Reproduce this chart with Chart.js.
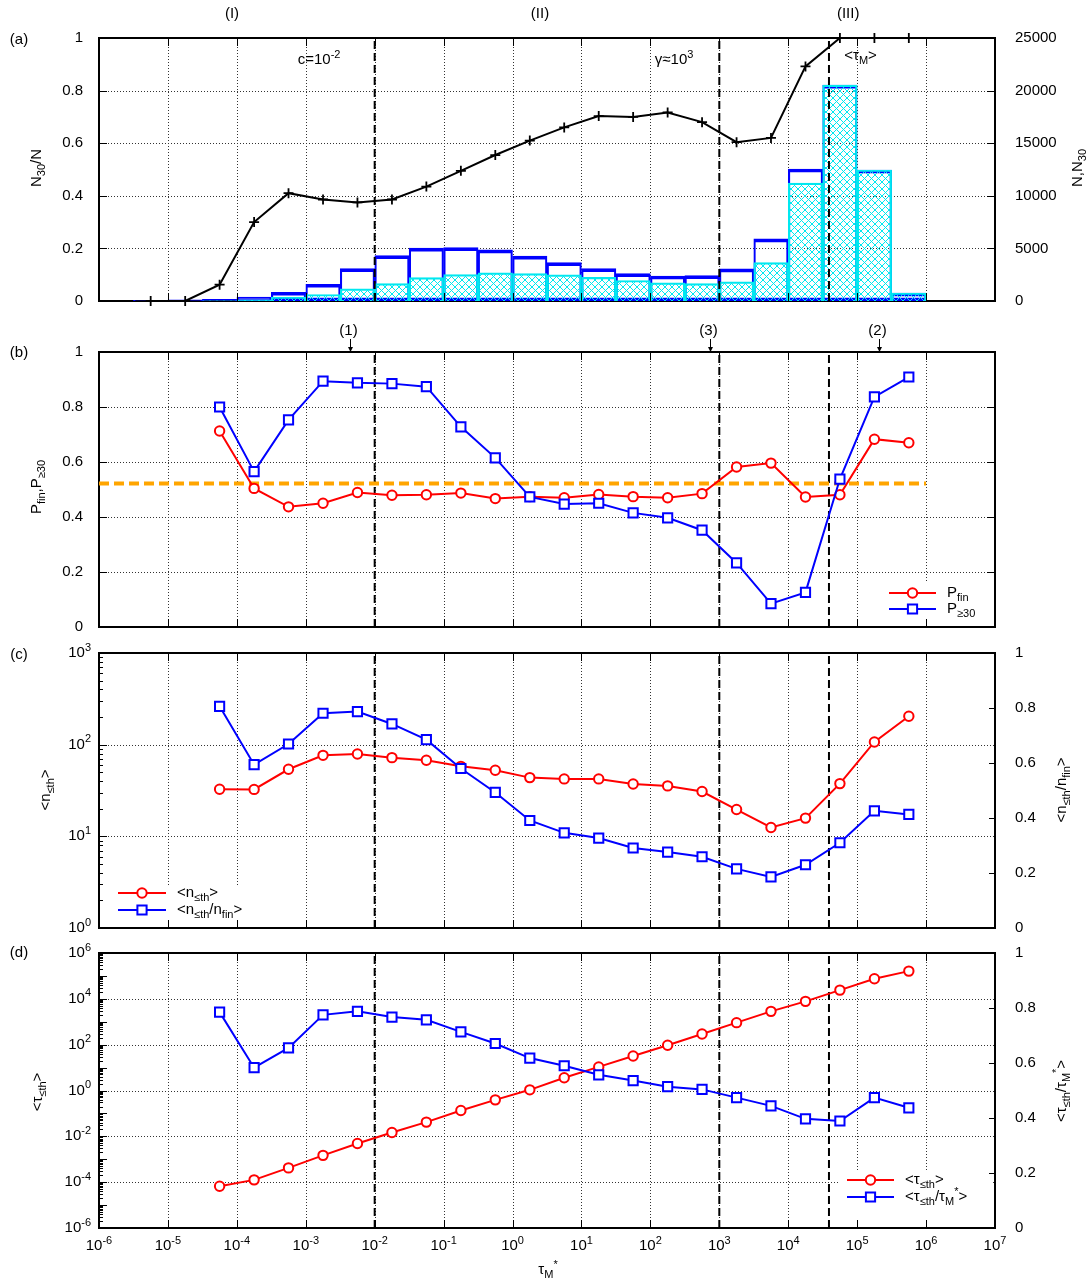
<!DOCTYPE html>
<html>
<head>
<meta charset="utf-8">
<title>chart</title>
<script src="https://cdn.jsdelivr.net/npm/chart.js@4.4.1/dist/chart.umd.min.js"></script>
<style>
html,body{margin:0;padding:0;background:#ffffff;}
#wrap{position:relative;width:1091px;height:1283px;overflow:hidden;background:#fff;}
#wrap canvas{position:absolute;left:0;}
</style>
</head>
<body>
<div id="wrap">
<canvas id="cA" width="1091" height="330" style="top:0px"></canvas>
<canvas id="cB" width="1091" height="330" style="top:320px"></canvas>
<canvas id="cC" width="1091" height="330" style="top:625px"></canvas>
<canvas id="cD" width="1091" height="358" style="top:925px"></canvas>
</div>
<script>
// ---------------- data ----------------
const tauBins = [5.62e-6, 1.78e-5, 5.62e-5, 1.78e-4, 5.62e-4, 1.78e-3, 5.62e-3, 1.78e-2, 5.62e-2, 0.178, 0.562, 1.78, 5.62, 17.8, 56.2, 178, 562, 1780, 5620, 17800, 56200, 178000, 562000];
const countN = [60, 100, 150, 380, 830, 1590, 3080, 4320, 5020, 5080, 4860, 4260, 3650, 3080, 2600, 2380, 2410, 3050, 5910, 12550, 20520, 12450, 760];
const countN30 = [0, 0, 10, 115, 380, 620, 1150, 1650, 2220, 2510, 2680, 2600, 2480, 2250, 1950, 1730, 1650, 1820, 3650, 11210, 20520, 12450, 760];
const fracN30 = [0, 0, 0.062, 0.30, 0.41, 0.386, 0.375, 0.386, 0.435, 0.495, 0.555, 0.61, 0.66, 0.703, 0.70, 0.717, 0.68, 0.604, 0.62, 0.892, 1, 1, 1];

const tauPoints = [5.62e-5, 1.78e-4, 5.62e-4, 1.78e-3, 5.62e-3, 1.78e-2, 5.62e-2, 0.178, 0.562, 1.78, 5.62, 17.8, 56.2, 178, 562, 1780, 5620, 17800, 56200, 178000, 562000];
const pFin  = [0.713, 0.504, 0.437, 0.450, 0.489, 0.479, 0.481, 0.487, 0.467, 0.474, 0.470, 0.482, 0.474, 0.470, 0.485, 0.582, 0.596, 0.473, 0.481, 0.683, 0.670];
const pGe30 = [0.800, 0.565, 0.753, 0.894, 0.888, 0.885, 0.874, 0.728, 0.615, 0.473, 0.447, 0.450, 0.415, 0.397, 0.352, 0.233, 0.085, 0.126, 0.538, 0.837, 0.909];
const pThreshold = 0.522;

const nTh    = [32.6, 32.5, 53.9, 76.5, 79.1, 72.2, 67.5, 58.0, 52.6, 43.7, 42.3, 42.3, 37.3, 35.5, 30.8, 19.6, 12.5, 15.8, 37.6, 107, 204];
const nRatio = [0.806, 0.594, 0.669, 0.781, 0.787, 0.742, 0.685, 0.580, 0.493, 0.391, 0.346, 0.327, 0.291, 0.276, 0.259, 0.215, 0.186, 0.230, 0.310, 0.426, 0.413];

const tauTh    = [6.6e-5, 1.26e-4, 4.2e-4, 1.48e-3, 4.9e-3, 0.0148, 0.0417, 0.135, 0.39, 1.07, 3.6, 10.7, 32, 94, 293, 912, 2840, 7760, 24000, 75500, 162000];
const tauRatio = [0.785, 0.583, 0.655, 0.775, 0.788, 0.767, 0.757, 0.713, 0.671, 0.618, 0.590, 0.557, 0.536, 0.514, 0.504, 0.474, 0.444, 0.397, 0.389, 0.474, 0.437];

const markerTaus = [1e-2, 1e3, 3.9e4];

const xTickValues = [1e-6, 1e-5, 1e-4, 1e-3, 1e-2, 1e-1, 1, 10, 100, 1e3, 1e4, 1e5, 1e6, 1e7];
const xTickExps = ['-6', '-5', '-4', '-3', '-2', '-1', '0', '1', '2', '3', '4', '5', '6', '7'];
const yTickValuesC = [1, 10, 100, 1000];
const yTickExpsC = ['0', '1', '2', '3'];
const yTickValuesD = [1e-6, 1e-4, 1e-2, 1, 1e2, 1e4, 1e6];
const yTickExpsD = ['-6', '-4', '-2', '0', '2', '4', '6'];
const regionTaus = [8.5e-5, 2.5, 7.4e4];
const regionLabels = ['(I)', '(II)', '(III)'];
const arrowTaus = [4.35e-3, 733, 2.1e5];
const arrowLabels = ['(1)', '(3)', '(2)'];

// ---------------- helpers ----------------
const FONT_FAMILY = '"Liberation Sans", Arial, Helvetica, sans-serif';
const FS = 15;
Chart.defaults.font.family = FONT_FAMILY;
Chart.defaults.font.size = FS;
Chart.defaults.color = '#000';

function setFont(ctx, sz) { ctx.font = sz + 'px ' + FONT_FAMILY; }
function richWidth(ctx, parts, size) {
  const small = Math.round(size * 0.73);
  let w = 0;
  for (const [t, m] of parts) { setFont(ctx, m ? small : size); w += ctx.measureText(t).width; }
  return w;
}
function drawRich(ctx, parts, x, y, align, size) {
  size = size || FS;
  const small = Math.round(size * 0.73);
  const w = richWidth(ctx, parts, size);
  let cx = align === 'center' ? x - w / 2 : (align === 'right' ? x - w : x);
  ctx.save();
  ctx.fillStyle = '#000'; ctx.textAlign = 'left'; ctx.textBaseline = 'middle';
  for (const [t, m] of parts) {
    setFont(ctx, m ? small : size);
    const dy = m === 1 ? size * 0.32 : (m === 2 ? -size * 0.36 : 0);
    ctx.fillText(t, cx, y + dy);
    cx += ctx.measureText(t).width;
  }
  ctx.restore();
}
function drawRichRot(ctx, parts, x, y, size) {
  ctx.save(); ctx.translate(x, y); ctx.rotate(-Math.PI / 2);
  drawRich(ctx, parts, 0, 0, 'center', size);
  ctx.restore();
}
function gridLines(chart, xVals, yId, yVals) {
  const { ctx, chartArea: a } = chart; const xs = chart.scales.x, ys = chart.scales[yId];
  ctx.save(); ctx.strokeStyle = '#333'; ctx.lineWidth = 1; ctx.setLineDash([1, 2]);
  for (const v of xVals) { const p = Math.round(xs.getPixelForValue(v)) + 0.5; ctx.beginPath(); ctx.moveTo(p, a.top); ctx.lineTo(p, a.bottom); ctx.stroke(); }
  for (const v of yVals) { const p = Math.round(ys.getPixelForValue(v)) + 0.5; ctx.beginPath(); ctx.moveTo(a.left, p); ctx.lineTo(a.right, p); ctx.stroke(); }
  ctx.restore();
}
function tickMarks(chart, id, vals, side, len) {
  const { ctx, chartArea: a } = chart; const s = chart.scales[id];
  ctx.save(); ctx.strokeStyle = '#000'; ctx.lineWidth = 1; ctx.setLineDash([]);
  for (const v of vals) {
    const p = Math.round(s.getPixelForValue(v)) + 0.5;
    ctx.beginPath();
    if (side === 'bottom') { ctx.moveTo(p, a.bottom); ctx.lineTo(p, a.bottom - len); }
    else if (side === 'top') { ctx.moveTo(p, a.top); ctx.lineTo(p, a.top + len); }
    else if (side === 'left') { ctx.moveTo(a.left, p); ctx.lineTo(a.left + len, p); }
    else { ctx.moveTo(a.right, p); ctx.lineTo(a.right - len, p); }
    ctx.stroke();
  }
  ctx.restore();
}
function frame(chart) {
  const { ctx, chartArea: a } = chart;
  ctx.save(); ctx.strokeStyle = '#000'; ctx.lineWidth = 2; ctx.setLineDash([]);
  ctx.strokeRect(a.left, a.top, a.right - a.left, a.bottom - a.top);
  ctx.restore();
}
function whiteBox(chart, x1, y1, x2, y2) {
  const ctx = chart.ctx; ctx.save(); ctx.fillStyle = '#fff'; ctx.fillRect(x1, y1, x2 - x1, y2 - y1); ctx.restore();
}
function legendEntry(ctx, x1, x2, y, color, shape, parts) {
  const xm = (x1 + x2) / 2;
  ctx.save(); ctx.strokeStyle = color; ctx.lineWidth = 2; ctx.setLineDash([]);
  ctx.beginPath(); ctx.moveTo(x1, y); ctx.lineTo(x2, y); ctx.stroke();
  ctx.fillStyle = '#fff'; ctx.beginPath();
  if (shape === 'circle') ctx.arc(xm, y, 4.7, 0, Math.PI * 2);
  else ctx.rect(xm - 4.6, y - 4.6, 9.2, 9.2);
  ctx.fill(); ctx.stroke(); ctx.restore();
  drawRich(ctx, parts, x2 + 11, y, 'left', FS);
}
function minorLogValues(lo, hi) {
  const out = [];
  for (let e = lo; e < hi; e++) for (let k = 2; k <= 9; k++) out.push(k * Math.pow(10, e));
  return out;
}
function xLogLabels(chart, y) {
  const xs = chart.scales.x;
  xTickValues.forEach((v, i) => drawRich(chart.ctx, [['10', 0], [xTickExps[i], 2]], xs.getPixelForValue(v), y, 'center', FS));
}
function yLogLabels(chart, vals, exps) {
  const ys = chart.scales.y;
  vals.forEach((v, i) => drawRich(chart.ctx, [['10', 0], [exps[i], 2]], 91, ys.getPixelForValue(v), 'right', FS));
}

// hatch pattern for N30 bars
const hatchCanvas = document.createElement('canvas');
hatchCanvas.width = 7; hatchCanvas.height = 7;
(function () {
  const p = hatchCanvas.getContext('2d');
  p.strokeStyle = '#00e8f0'; p.lineWidth = 1;
  p.beginPath(); p.moveTo(0, 0); p.lineTo(7, 7); p.moveTo(7, 0); p.lineTo(0, 7); p.stroke();
})();
const hatch = document.getElementById('cA').getContext('2d').createPattern(hatchCanvas, 'repeat');

// scale factories
function xScale(h) {
  return {
    type: 'logarithmic', position: 'bottom', min: 1e-6, max: 1e7, offset: false,
    grid: { display: false }, border: { display: false }, ticks: { display: false },
    afterBuildTicks: s => { s.ticks = xTickValues.map(v => ({ value: v })); },
    afterFit: s => { s.height = h; }
  };
}
function yLin(pos, min, max, step, width, pad) {
  return {
    type: 'linear', position: pos, min: min, max: max,
    grid: { display: false }, border: { display: false },
    ticks: { stepSize: step, padding: pad, color: '#000', font: { size: FS, family: FONT_FAMILY },
      callback: v => String(Math.round(v * 10) / 10) },
    afterFit: s => { s.width = width; }
  };
}
function yLog(pos, min, max, vals, width) {
  return {
    type: 'logarithmic', position: pos, min: min, max: max,
    grid: { display: false }, border: { display: false }, ticks: { display: false },
    afterBuildTicks: s => { s.ticks = vals.map(v => ({ value: v })); },
    afterFit: s => { s.width = width; }
  };
}
function lineSet(xs, ys, color, shape, yAxisID, order) {
  return {
    type: 'line', data: xs.map((x, i) => ({ x: x, y: ys[i] })), yAxisID: yAxisID,
    borderColor: color, borderWidth: 2, pointStyle: shape,
    pointRadius: shape === 'rect' ? 6.5 : 4.7, pointHoverRadius: shape === 'rect' ? 6.5 : 4.7,
    pointBorderWidth: 2, pointBorderColor: color, pointBackgroundColor: '#fff',
    fill: false, tension: 0, order: order, clip: false
  };
}
function markerLines(yAxisID, ymin, ymax) {
  return markerTaus.map(v => ({
    type: 'line', data: [{ x: v, y: ymin }, { x: v, y: ymax }], yAxisID: yAxisID,
    borderColor: '#000', borderWidth: 2, borderDash: [8, 4], pointRadius: 0, pointHoverRadius: 0,
    fill: false, order: 5
  }));
}
const baseOpts = {
  responsive: false, animation: false, devicePixelRatio: 1,
  plugins: { legend: { display: false }, tooltip: { enabled: false } },
  events: []
};
const decadesInner = xTickValues.slice(1, -1);

// ---------------- panel (a) ----------------
new Chart(document.getElementById('cA'), {
  type: 'line',
  data: {
    datasets: [
      {
        type: 'line', data: tauBins.map((x, i) => ({ x: x, y: fracN30[i] })), yAxisID: 'y',
        borderColor: '#000', borderWidth: 2, pointStyle: 'cross', pointRadius: 5, pointHoverRadius: 5,
        pointBorderWidth: 1.8, pointBorderColor: '#000', fill: false, tension: 0, order: 0, clip: false
      },
      ...markerLines('y', 0, 1).map(d => Object.assign(d, { order: 1 })),
      {
        type: 'bar', data: tauBins.map((x, i) => ({ x: x, y: countN30[i] })), yAxisID: 'y2',
        backgroundColor: hatch, borderColor: '#00e8f0',
        borderWidth: { top: 1.5, bottom: 0, left: 1.5, right: 1.5 }, borderSkipped: false,
        grouped: false, barPercentage: 1, categoryPercentage: 1, order: 2
      },
      {
        type: 'bar', data: tauBins.map((x, i) => ({ x: x, y: countN[i] })), yAxisID: 'y2',
        backgroundColor: 'rgba(0,0,0,0)', borderColor: '#0000ff',
        borderWidth: { top: 3, bottom: 3, left: 1.5, right: 1.5 }, borderSkipped: false,
        grouped: false, barPercentage: 1, categoryPercentage: 1, order: 3
      }
    ]
  },
  options: Object.assign({}, baseOpts, {
    layout: { padding: { top: 38, left: 0, right: 0, bottom: 0 } },
    scales: { x: xScale(29), y: yLin('left', 0, 1, 0.2, 99, 8), y2: yLin('right', 0, 25000, 5000, 96, 12) }
  }),
  plugins: [{
    id: 'decoA',
    beforeDatasetsDraw(chart) {
      gridLines(chart, decadesInner, 'y', [0.2, 0.4, 0.6, 0.8]);
      frame(chart);
    },
    afterDatasetsDraw(chart) {
      tickMarks(chart, 'x', decadesInner, 'bottom', 8);
      tickMarks(chart, 'x', decadesInner, 'top', 8);
      tickMarks(chart, 'y', [0.2, 0.4, 0.6, 0.8], 'left', 8);
      tickMarks(chart, 'y2', [5000, 10000, 15000, 20000], 'right', 8);
    },
    afterDraw(chart) {
      const ctx = chart.ctx, xs = chart.scales.x;
      drawRich(ctx, [['(a)', 0]], 19, 40, 'center');
      regionTaus.forEach((v, i) => drawRich(ctx, [[regionLabels[i], 0]], xs.getPixelForValue(v), 14, 'center'));
      drawRich(ctx, [['c=10', 0], ['-2', 2]], xs.getPixelForValue(1.56e-3), 60, 'center');
      drawRich(ctx, [['γ≈10', 0], ['3', 2]], xs.getPixelForValue(221), 60, 'center');
      drawRich(ctx, [['<τ', 0], ['M', 1], ['>', 0]], xs.getPixelForValue(1.12e5), 56, 'center');
      drawRichRot(ctx, [['N', 0], ['30', 1], ['/N', 0]], 37, 168);
      drawRichRot(ctx, [['N,N', 0], ['30', 1]], 1078, 168);
    }
  }]
});

// ---------------- panel (b) ----------------
new Chart(document.getElementById('cB'), {
  type: 'line',
  data: {
    datasets: [
      lineSet(tauPoints, pGe30, '#0000ff', 'rect', 'y', 0),
      lineSet(tauPoints, pFin, '#ff0000', 'circle', 'y', 1),
      {
        type: 'line', data: [{ x: 1e-6, y: pThreshold }, { x: 1e6, y: pThreshold }], yAxisID: 'y',
        borderColor: '#ffa500', borderWidth: 4, borderDash: [10, 5], pointRadius: 0, pointHoverRadius: 0, fill: false, order: 4
      },
      ...markerLines('y', 0, 1)
    ]
  },
  options: Object.assign({}, baseOpts, {
    layout: { padding: { top: 32, left: 0, right: 96, bottom: 0 } },
    scales: { x: xScale(23), y: yLin('left', 0, 1, 0.2, 99, 8) }
  }),
  plugins: [{
    id: 'decoB',
    beforeDatasetsDraw(chart) {
      gridLines(chart, decadesInner, 'y', [0.2, 0.4, 0.6, 0.8]);
      whiteBox(chart, 884, 263, 992, 305);
      frame(chart);
    },
    afterDatasetsDraw(chart) {
      tickMarks(chart, 'x', decadesInner, 'bottom', 8);
      tickMarks(chart, 'x', decadesInner, 'top', 8);
      tickMarks(chart, 'y', [0.2, 0.4, 0.6, 0.8], 'left', 8);
      tickMarks(chart, 'y', [0.2, 0.4, 0.6, 0.8], 'right', 8);
    },
    afterDraw(chart) {
      const ctx = chart.ctx, xs = chart.scales.x, top = chart.chartArea.top;
      drawRich(ctx, [['(b)', 0]], 19, 33, 'center');
      arrowTaus.forEach((v, i) => {
        const p = Math.round(xs.getPixelForValue(v)) + 0.5;
        drawRich(ctx, [[arrowLabels[i], 0]], p - 2, 11, 'center');
        ctx.save(); ctx.strokeStyle = '#000'; ctx.fillStyle = '#000'; ctx.lineWidth = 1;
        ctx.beginPath(); ctx.moveTo(p, 19); ctx.lineTo(p, top - 3); ctx.stroke();
        ctx.beginPath(); ctx.moveTo(p - 2.5, top - 5); ctx.lineTo(p + 2.5, top - 5); ctx.lineTo(p, top); ctx.closePath(); ctx.fill();
        ctx.restore();
      });
      drawRichRot(ctx, [['P', 0], ['fin', 1], [',P', 0], ['≥30', 1]], 37, 167);
      legendEntry(ctx, 889, 936, 273, '#ff0000', 'circle', [['P', 0], ['fin', 1]]);
      legendEntry(ctx, 889, 936, 289, '#0000ff', 'rect', [['P', 0], ['≥30', 1]]);
    }
  }]
});

// ---------------- panel (c) ----------------
new Chart(document.getElementById('cC'), {
  type: 'line',
  data: {
    datasets: [
      lineSet(tauPoints, nRatio, '#0000ff', 'rect', 'y2', 0),
      lineSet(tauPoints, nTh, '#ff0000', 'circle', 'y', 1),
      ...markerLines('y', 1, 1000)
    ]
  },
  options: Object.assign({}, baseOpts, {
    layout: { padding: { top: 28, left: 0, right: 0, bottom: 0 } },
    scales: { x: xScale(27), y: yLog('left', 1, 1000, yTickValuesC, 99), y2: yLin('right', 0, 1, 0.2, 96, 12) }
  }),
  plugins: [{
    id: 'decoC',
    beforeDatasetsDraw(chart) {
      gridLines(chart, decadesInner, 'y', [10, 100]);
      whiteBox(chart, 112, 260, 255, 302);
      frame(chart);
    },
    afterDatasetsDraw(chart) {
      tickMarks(chart, 'x', decadesInner, 'bottom', 8);
      tickMarks(chart, 'x', decadesInner, 'top', 8);
      tickMarks(chart, 'y', [10, 100], 'left', 8);
      tickMarks(chart, 'y', minorLogValues(0, 3), 'left', 4);
      tickMarks(chart, 'y2', [0.2, 0.4, 0.6, 0.8], 'right', 6);
    },
    afterDraw(chart) {
      const ctx = chart.ctx;
      drawRich(ctx, [['(c)', 0]], 19, 30, 'center');
      yLogLabels(chart, yTickValuesC, yTickExpsC);
      drawRichRot(ctx, [['<n', 0], ['≤th', 1], ['>', 0]], 46, 165);
      drawRichRot(ctx, [['<n', 0], ['≤th', 1], ['/n', 0], ['fin', 1], ['>', 0]], 1062, 165);
      legendEntry(ctx, 118, 166, 268, '#ff0000', 'circle', [['<n', 0], ['≤th', 1], ['>', 0]]);
      legendEntry(ctx, 118, 166, 285, '#0000ff', 'rect', [['<n', 0], ['≤th', 1], ['/n', 0], ['fin', 1], ['>', 0]]);
    }
  }]
});

// ---------------- panel (d) ----------------
new Chart(document.getElementById('cD'), {
  type: 'line',
  data: {
    datasets: [
      lineSet(tauPoints, tauRatio, '#0000ff', 'rect', 'y2', 0),
      lineSet(tauPoints, tauTh, '#ff0000', 'circle', 'y', 1),
      ...markerLines('y', 1e-6, 1e6)
    ]
  },
  options: Object.assign({}, baseOpts, {
    layout: { padding: { top: 28, left: 0, right: 0, bottom: 0 } },
    scales: { x: xScale(55), y: yLog('left', 1e-6, 1e6, yTickValuesD, 99), y2: yLin('right', 0, 1, 0.2, 96, 12) }
  }),
  plugins: [{
    id: 'decoD',
    beforeDatasetsDraw(chart) {
      gridLines(chart, decadesInner, 'y', [1e-4, 1e-2, 1, 1e2, 1e4]);
      whiteBox(chart, 840, 245, 992, 304);
      frame(chart);
    },
    afterDatasetsDraw(chart) {
      tickMarks(chart, 'x', decadesInner, 'bottom', 8);
      tickMarks(chart, 'x', decadesInner, 'top', 8);
      tickMarks(chart, 'y', [1e-5, 1e-4, 1e-3, 1e-2, 0.1, 1, 10, 100, 1e3, 1e4, 1e5], 'left', 8);
      tickMarks(chart, 'y', minorLogValues(-6, 6), 'left', 4);
      tickMarks(chart, 'y2', [0.2, 0.4, 0.6, 0.8], 'right', 6);
    },
    afterDraw(chart) {
      const ctx = chart.ctx;
      drawRich(ctx, [['(d)', 0]], 19, 28, 'center');
      yLogLabels(chart, yTickValuesD, yTickExpsD);
      xLogLabels(chart, 321);
      drawRich(ctx, [['τ', 0], ['M', 1], ['*', 2]], 548, 345, 'center');
      drawRichRot(ctx, [['<τ', 0], ['≤th', 1], ['>', 0]], 38, 167);
      drawRichRot(ctx, [['<τ', 0], ['≤th', 1], ['/τ', 0], ['M', 1], ['*', 2], ['>', 0]], 1062, 166);
      legendEntry(ctx, 847, 894, 255, '#ff0000', 'circle', [['<τ', 0], ['≤th', 1], ['>', 0]]);
      legendEntry(ctx, 847, 894, 272, '#0000ff', 'rect', [['<τ', 0], ['≤th', 1], ['/τ', 0], ['M', 1], ['*', 2], ['>', 0]]);
    }
  }]
});
</script>
</body>
</html>
